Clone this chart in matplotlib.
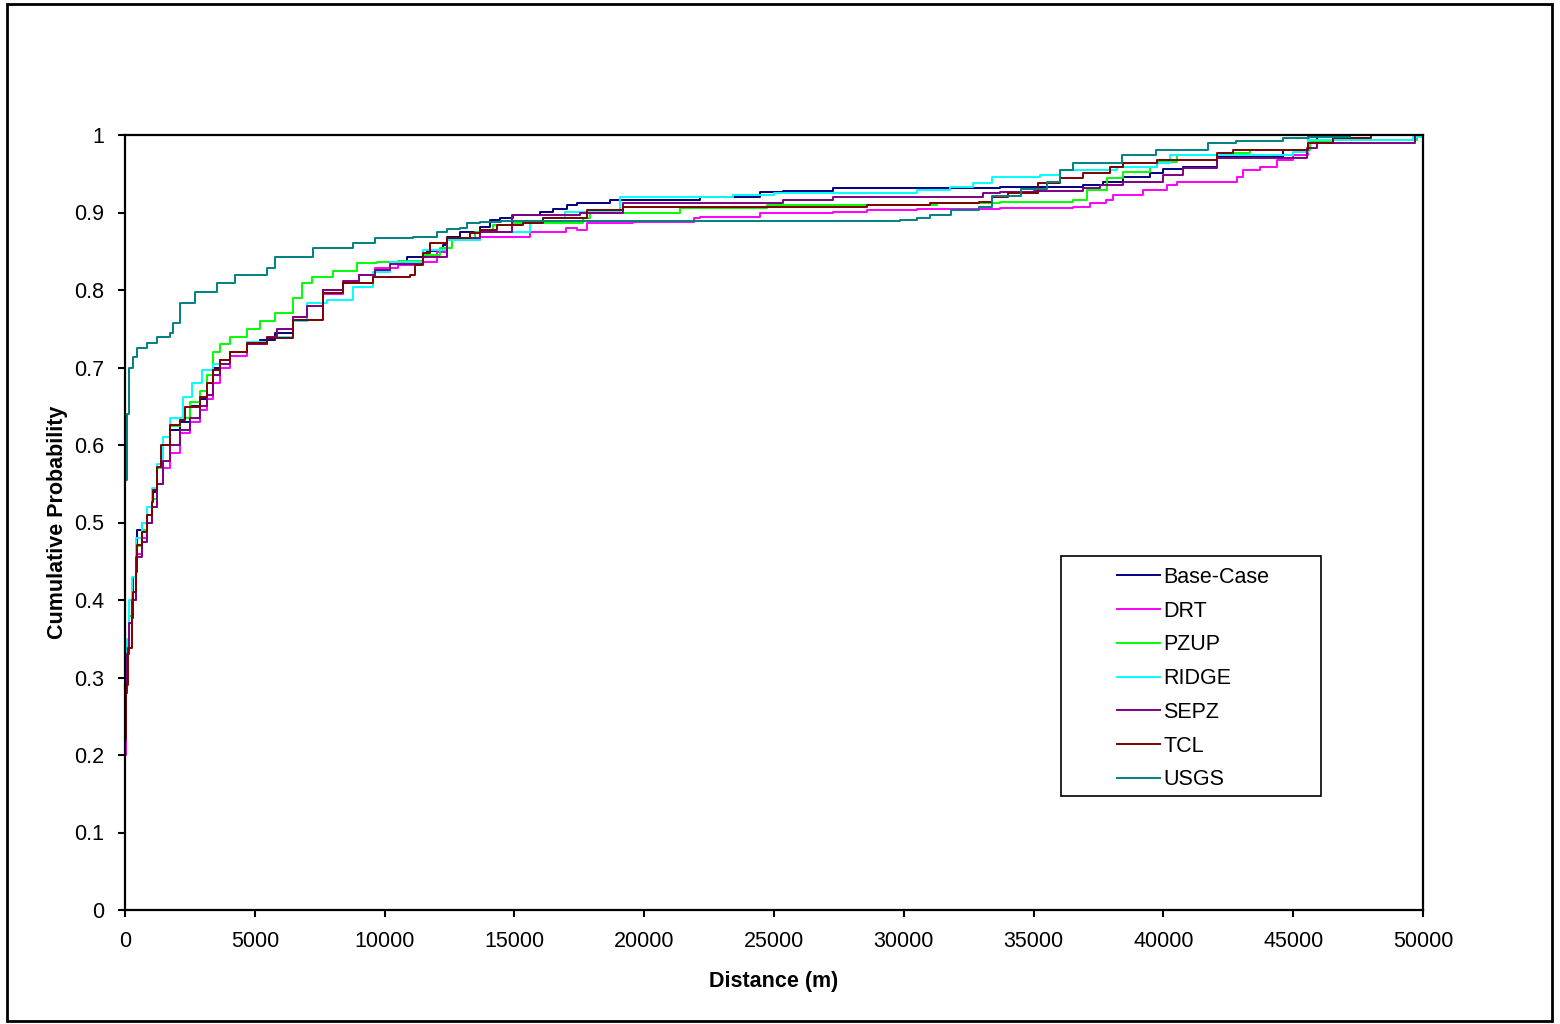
import matplotlib
matplotlib.use("Agg")
import matplotlib.pyplot as plt
from matplotlib.patches import Rectangle

plt.rcParams['font.family'] = ['Liberation Sans', 'DejaVu Sans']

series_names = ["Base-Case", "DRT", "PZUP", "RIDGE", "SEPZ", "TCL", "USGS"]
series_colors = ["#000080", "#FF00FF", "#00FF00", "#00FFFF", "#800080", "#800000", "#008080"]

base_case = [(0, 0), (0, 0.22), (40, 0.29), (80, 0.34), (150, 0.38), (270, 0.41), (310, 0.43),
             (420, 0.47), (460, 0.49), (650, 0.50), (850, 0.51), (1040, 0.53), (1080, 0.54),
             (1230, 0.57), (1460, 0.60), (1730, 0.62), (2120, 0.63), (2500, 0.65), (2890, 0.66),
             (3160, 0.68), (3390, 0.70), (3660, 0.71), (4050, 0.72), (4700, 0.73), (5200, 0.735),
             (5780, 0.745), (6470, 0.76), (7010, 0.78), (7630, 0.80), (8400, 0.81), (9000, 0.82),
             (9630, 0.826), (10210, 0.836), (10860, 0.843), (11630, 0.85), (12250, 0.858),
             (12400, 0.868), (12900, 0.875), (13680, 0.881), (14060, 0.890), (14450, 0.893),
             (14950, 0.897), (16000, 0.901), (16490, 0.905), (17030, 0.910), (17410, 0.912),
             (18680, 0.916), (22150, 0.920), (24460, 0.926), (25350, 0.928), (27270, 0.932),
             (33700, 0.933), (36900, 0.935), (37670, 0.939), (38440, 0.946), (39480, 0.951),
             (39980, 0.956), (40750, 0.959), (42060, 0.972), (44600, 0.981), (45570, 0.990),
             (45920, 1.0), (50000, 1.0)]

drt = [(0, 0), (0, 0.20), (40, 0.28), (80, 0.33), (150, 0.37), (270, 0.40), (420, 0.46),
       (650, 0.48), (850, 0.50), (1040, 0.52), (1230, 0.55), (1460, 0.57), (1730, 0.59),
       (2120, 0.615), (2500, 0.63), (2890, 0.645), (3160, 0.66), (3390, 0.68), (3660, 0.70),
       (4050, 0.715), (4700, 0.73), (5470, 0.74), (5850, 0.75), (6470, 0.765), (7010, 0.78),
       (7630, 0.795), (8400, 0.81), (9000, 0.82), (9630, 0.828), (10500, 0.832), (11440, 0.836),
       (12020, 0.849), (12400, 0.865), (13680, 0.868), (15600, 0.875), (17000, 0.880),
       (17410, 0.877), (17800, 0.886), (19570, 0.888), (21900, 0.893), (22150, 0.894),
       (24460, 0.899), (27270, 0.901), (28580, 0.903), (30500, 0.905), (33700, 0.906),
       (36500, 0.907), (37170, 0.912), (37800, 0.916), (38060, 0.923), (39200, 0.929),
       (40140, 0.935), (40520, 0.939), (42830, 0.946), (43070, 0.955), (43720, 0.959),
       (44380, 0.968), (45000, 0.974), (45570, 1.0), (50000, 1.0)]

pzup = [(0, 0), (0, 0.27), (40, 0.28), (80, 0.34), (150, 0.38), (270, 0.41), (420, 0.47),
        (650, 0.49), (850, 0.51), (1040, 0.53), (1230, 0.57), (1460, 0.60), (1730, 0.625),
        (2120, 0.635), (2500, 0.655), (2890, 0.67), (3160, 0.69), (3390, 0.72), (3660, 0.73),
        (4050, 0.74), (4700, 0.75), (5200, 0.76), (5780, 0.77), (6470, 0.79), (6820, 0.809),
        (7200, 0.817), (8000, 0.825), (8940, 0.835), (9700, 0.836), (10500, 0.838),
        (11480, 0.845), (12130, 0.854), (12600, 0.865), (13500, 0.875), (14180, 0.884),
        (14950, 0.886), (17640, 0.893), (17910, 0.899), (21380, 0.906), (24730, 0.910),
        (31280, 0.912), (33700, 0.913), (36520, 0.916), (37060, 0.929), (37830, 0.944),
        (38440, 0.952), (39480, 0.959), (39750, 0.965), (40520, 0.974), (42300, 0.977),
        (43340, 0.981), (45650, 0.991), (46530, 0.994), (49770, 0.997), (50000, 0.997)]

ridge = [(0, 0), (0, 0.25), (40, 0.30), (80, 0.35), (150, 0.40), (270, 0.43), (420, 0.48),
         (650, 0.50), (850, 0.52), (1040, 0.545), (1230, 0.575), (1460, 0.61), (1730, 0.635),
         (2230, 0.662), (2580, 0.68), (2970, 0.697), (3390, 0.705), (4050, 0.72), (4700, 0.733),
         (5470, 0.74), (6470, 0.76), (7010, 0.783), (7780, 0.787), (8780, 0.804), (9550, 0.823),
         (10210, 0.836), (11480, 0.852), (12400, 0.865), (13680, 0.875), (15600, 0.886),
         (16100, 0.893), (16950, 0.901), (19070, 0.920), (23420, 0.923), (25000, 0.925),
         (30510, 0.929), (31780, 0.933), (32670, 0.938), (33400, 0.946), (35250, 0.948),
         (36020, 0.955), (38200, 0.959), (39750, 0.964), (40250, 0.974), (45000, 0.978),
         (45570, 0.994), (49610, 0.997), (50000, 0.997)]

sepz = [(0, 0), (0, 0.22), (40, 0.28), (80, 0.33), (150, 0.37), (270, 0.40), (420, 0.455),
        (650, 0.475), (850, 0.50), (1040, 0.52), (1230, 0.55), (1460, 0.58), (1730, 0.60),
        (2120, 0.62), (2500, 0.635), (2890, 0.65), (3160, 0.665), (3390, 0.69), (3660, 0.705),
        (4050, 0.72), (4700, 0.73), (5470, 0.74), (5850, 0.75), (6470, 0.765), (7010, 0.78),
        (7630, 0.80), (8400, 0.812), (9000, 0.82), (9630, 0.826), (10210, 0.834), (11480, 0.843),
        (12400, 0.867), (13680, 0.875), (14900, 0.897), (17530, 0.899), (19180, 0.912),
        (25350, 0.916), (27270, 0.920), (33050, 0.925), (33700, 0.926), (35000, 0.928),
        (36900, 0.931), (37560, 0.935), (38440, 0.939), (39980, 0.948), (40750, 0.957),
        (42060, 0.970), (45530, 0.983), (45920, 0.990), (49690, 0.991), (49700, 1.0),
        (50000, 1.0)]

tcl = [(0, 0), (0, 0.222), (40, 0.29), (116, 0.338), (270, 0.377), (308, 0.41), (424, 0.436),
       (462, 0.471), (655, 0.488), (847, 0.51), (1040, 0.526), (1079, 0.542), (1233, 0.572),
       (1390, 0.60), (1733, 0.626), (2119, 0.632), (2311, 0.649), (2889, 0.662), (3159, 0.68),
       (3390, 0.697), (3659, 0.71), (4045, 0.72), (4699, 0.732), (5470, 0.738), (6471, 0.761),
       (7627, 0.796), (8397, 0.809), (9553, 0.817), (10978, 0.819), (11171, 0.832),
       (11479, 0.848), (11749, 0.861), (12403, 0.867), (13289, 0.873), (13675, 0.877),
       (14329, 0.884), (15331, 0.886), (16101, 0.893), (17796, 0.903), (19183, 0.907),
       (28582, 0.910), (31000, 0.912), (32900, 0.914), (33400, 0.920), (34000, 0.925),
       (35170, 0.938), (36020, 0.944), (36900, 0.951), (37940, 0.959), (38440, 0.964),
       (39750, 0.968), (42060, 0.977), (42680, 0.981), (45570, 0.990), (46530, 0.996),
       (48000, 1.0), (50000, 1.0)]

usgs = [(0, 0), (0, 0.555), (80, 0.64), (150, 0.70), (310, 0.714), (460, 0.725), (850, 0.732),
        (1230, 0.74), (1730, 0.745), (1850, 0.757), (2120, 0.783), (2700, 0.797), (3540, 0.809),
        (4240, 0.819), (5470, 0.828), (5780, 0.843), (7240, 0.854), (8780, 0.861), (9630, 0.867),
        (11090, 0.868), (12020, 0.875), (12400, 0.879), (12900, 0.880), (13170, 0.886),
        (13680, 0.888), (14500, 0.889), (29850, 0.890), (30500, 0.893), (31000, 0.897),
        (31800, 0.903), (32900, 0.907), (33400, 0.921), (34500, 0.930), (35500, 0.940),
        (36000, 0.955), (36500, 0.964), (38400, 0.974), (39700, 0.981), (41700, 0.990),
        (42800, 0.992), (44600, 0.996), (45600, 0.997), (47200, 1.0), (50000, 1.0)]

all_series = [base_case, drt, pzup, ridge, sepz, tcl, usgs]

x_ticks = [0, 5000, 10000, 15000, 20000, 25000, 30000, 35000, 40000, 45000, 50000]
y_ticks = [0, 0.1, 0.2, 0.3, 0.4, 0.5, 0.6, 0.7, 0.8, 0.9, 1]
y_tick_labels = ["0", "0.1", "0.2", "0.3", "0.4", "0.5", "0.6", "0.7", "0.8", "0.9", "1"]

fig = plt.figure(figsize=(15.6, 10.24), dpi=100)
ax = fig.add_axes([125 / 1560, 1 - 910 / 1024, 1298 / 1560, 775 / 1024])

for name, col, data in zip(series_names, series_colors, all_series):
    xs = [p[0] for p in data]
    ys = [p[1] for p in data]
    ax.plot(xs, ys, drawstyle='steps-post', color=col, lw=1.4, label=name)

ax.set_xlim(0, 50000)
ax.set_ylim(0, 1)
ax.set_xticks(x_ticks)
ax.set_xticklabels([str(v) for v in x_ticks])
ax.set_yticks(y_ticks)
ax.set_yticklabels(y_tick_labels)
ax.tick_params(axis='both', direction='out', length=5, width=1.5, labelsize=15.5, colors='black')
ax.tick_params(axis='x', pad=10)
ax.tick_params(axis='y', pad=10)
for s in ax.spines.values():
    s.set_linewidth(1.6)
    s.set_color('black')

ax.set_xlabel("Distance (m)", fontsize=15.5, fontweight='bold', labelpad=14)
ax.set_ylabel("Cumulative Probability", fontsize=15.5, fontweight='bold', labelpad=4)

# legend box
ax.add_patch(Rectangle(((1061 - 125) / 1298, (910 - 796) / 775), 260 / 1298, 240 / 775,
                       transform=ax.transAxes, fill=True, facecolor='white',
                       edgecolor='black', lw=1.2, zorder=5))
leg = ax.legend(loc='upper left', bbox_to_anchor=((1117 - 125) / 1298, (910 - 567) / 775),
                frameon=False, fontsize=15.5, handlelength=2.0, handletextpad=0.14,
                labelspacing=0.59, borderpad=0, borderaxespad=0)
leg.set_zorder(6)

# outer frame
fig.patches.append(Rectangle((7 / 1560, 1 - 1021 / 1024), 1545 / 1560, 1017 / 1024,
                             transform=fig.transFigure, fill=False, edgecolor='black', lw=2))

fig.savefig("out.png", dpi=100)
